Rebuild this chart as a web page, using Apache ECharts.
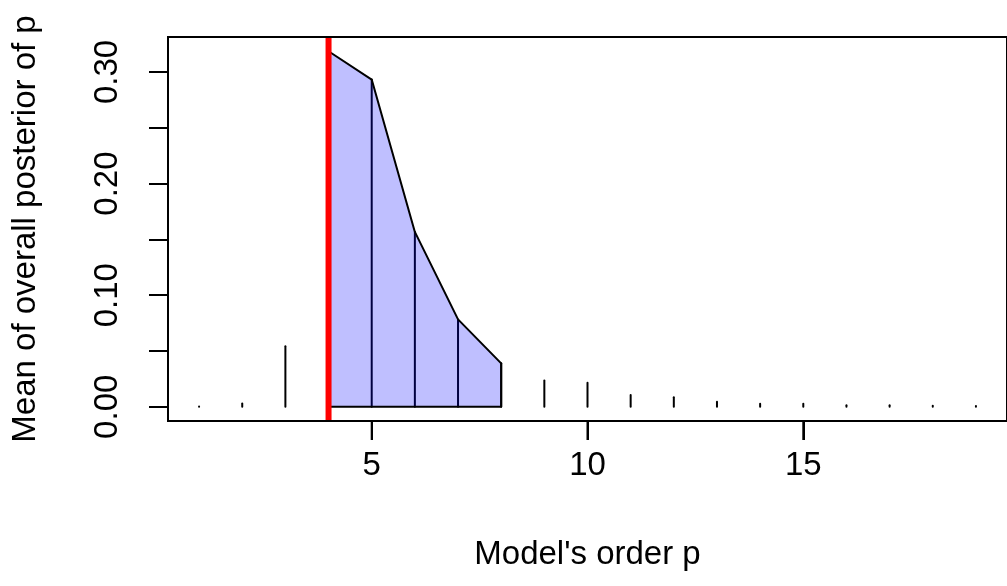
<!DOCTYPE html>
<html>
<head>
<meta charset="utf-8">
<script src="https://cdn.jsdelivr.net/npm/echarts@6/dist/echarts.min.js"></script>
<style>
html,body{margin:0;padding:0;background:#fff;}
#chart{width:1007px;height:586px;}
</style>
</head>
<body>
<div id="chart"></div>
<script>
// Model order p and mean overall posterior of p
const orders = [1,2,3,4,5,6,7,8,9,10,11,12,13,14,15,16,17,18,19];
const posterior = [0.0003,0.0030,0.0543,0.3186,0.2932,0.1567,0.0783,0.0389,0.0236,0.0215,0.0105,0.0086,0.0045,0.0027,0.0027,0.0014,0.0013,0.0010,0.0008];
// shaded band of orders and the marked order
const bandOrders = [4,5,6,7,8];
const markedOrder = 4;
// axis tick values and labels
const xTicks = [5,10,15];
const yTicks = [0,0.05,0.10,0.15,0.20,0.25,0.30];
const yLabels = [0,0.10,0.20,0.30];
const xTitle = "Model's order p";
const yTitle = "Mean of overall posterior of p";

const FONT = 'Liberation Sans, Arial, sans-serif';
const FS = 33;
const TICK = 19;

// R-style 4% axis extension
const xMinD = Math.min(...orders), xMaxD = Math.max(...orders);
const yMinD = 0, yMaxD = Math.max(...posterior);
const xPad = (xMaxD - xMinD) * 0.04, yPad = (yMaxD - yMinD) * 0.04;
const xLo = xMinD - xPad, xHi = xMaxD + xPad, yLo = yMinD - yPad, yHi = yMaxD + yPad;

const hData = orders.map((p,i)=>[p, posterior[i]]);
const bandData = bandOrders.map(p=>[p, posterior[orders.indexOf(p)]]);
const xTickData = xTicks.map(v=>[v, yLo]);

const chart = echarts.init(document.getElementById('chart'), null, {renderer:'canvas'});
chart.setOption({
  animation:false,
  backgroundColor:'#fff',
  grid:{left:168, top:37, right:-10, bottom:165, show:false, containLabel:false},
  xAxis:{type:'value', position:'bottom', min:xLo, max:xHi,
    splitLine:{show:false}, axisLine:{show:false, onZero:false},
    axisTick:{show:true, inside:false, length:TICK, customValues:xTicks, lineStyle:{color:'#000', width:2}},
    axisLabel:{show:true, customValues:xTicks, margin:28, fontSize:FS, color:'#000', fontFamily:FONT, formatter:v=>String(v)},
    name:xTitle, nameLocation:'middle', nameGap:117,
    nameTextStyle:{fontSize:FS, color:'#000', fontFamily:FONT}
  },
  yAxis:{type:'value', position:'left', min:yLo, max:yHi,
    splitLine:{show:false}, axisLine:{show:false, onZero:false},
    axisTick:{show:true, inside:false, length:TICK, customValues:yTicks, lineStyle:{color:'#000', width:2}},
    axisLabel:{show:true, customValues:yLabels, rotate:90, margin:44, fontSize:FS, color:'#000', fontFamily:FONT, formatter:v=>v.toFixed(2)},
    name:yTitle, nameLocation:'middle', nameGap:126, nameRotate:90,
    nameTextStyle:{fontSize:FS, color:'#000', fontFamily:FONT}
  },
  series:[
    // plot box
    {type:'custom', z:6, data:[[xLo, yLo, xHi, yHi]], clip:false, silent:true,
     renderItem:(params, api)=>{
       const a = api.coord([api.value(0), api.value(1)]);
       const b = api.coord([api.value(2), api.value(3)]);
       return {type:'rect', shape:{x:a[0], y:b[1], width:b[0]-a[0], height:a[1]-b[1]},
               style:{fill:null, stroke:'#000', lineWidth:2}};
     }},
    // x tick marks below the plot box
    {type:'custom', z:6, data:xTickData, clip:false, silent:true,
     renderItem:(params, api)=>{
       const a = api.coord([api.value(0), api.value(1)]);
       return {type:'line', shape:{x1:a[0], y1:a[1], x2:a[0], y2:a[1] + TICK},
               style:{stroke:'#000', lineWidth:2}};
     }},
    {type:'custom', z:2, data:hData, clip:false,
     renderItem:(params, api)=>{
       const a = api.coord([api.value(0), 0]);
       const b = api.coord([api.value(0), api.value(1)]);
       return {type:'line', shape:{x1:a[0], y1:a[1], x2:b[0], y2:b[1]},
               style:{stroke:'#000', lineWidth:2, lineCap:'round'}};
     }},
    {type:'custom', z:3, data:[0], clip:false,
     renderItem:(params, api)=>{
       const pts = [];
       pts.push(api.coord([bandData[0][0], 0]));
       bandData.forEach(d=>pts.push(api.coord(d)));
       pts.push(api.coord([bandData[bandData.length-1][0], 0]));
       return {type:'polygon', shape:{points:pts},
               style:{fill:'rgba(0,0,255,0.25)', stroke:'#000', lineWidth:2, lineJoin:'round'}};
     }},
    {type:'custom', z:4, data:[markedOrder], clip:false,
     renderItem:(params, api)=>{
       const a = api.coord([api.value(0), yLo]);
       const b = api.coord([api.value(0), yHi]);
       return {type:'line', shape:{x1:a[0], y1:a[1], x2:b[0], y2:b[1]},
               style:{stroke:'#ff0000', lineWidth:6}};
     }}
  ]
});
</script>
</body>
</html>
